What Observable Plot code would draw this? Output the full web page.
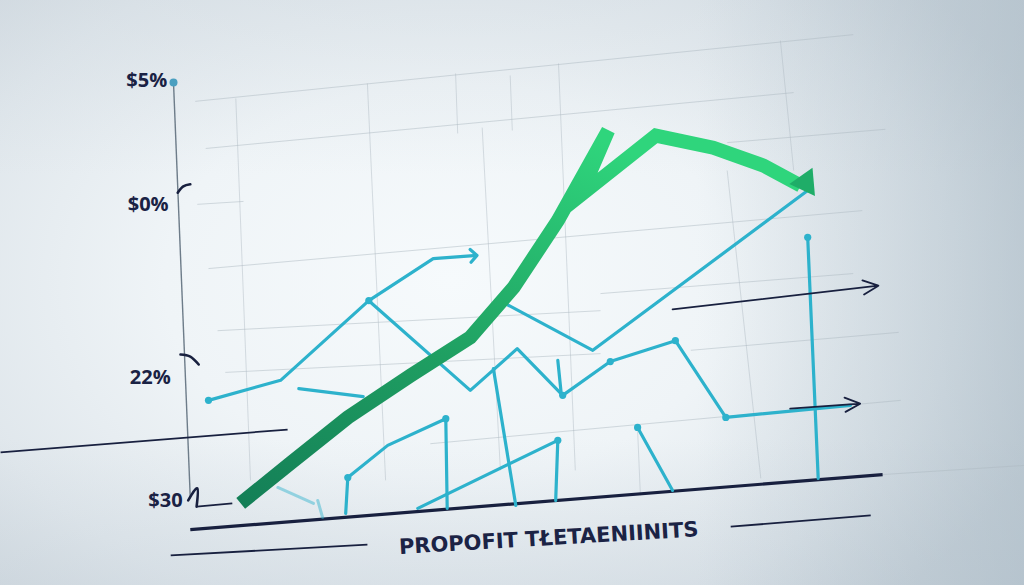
<!DOCTYPE html>
<html>
<head>
<meta charset="utf-8">
<script src="https://cdn.jsdelivr.net/npm/d3@7"></script>
<script src="https://cdn.jsdelivr.net/npm/@observablehq/plot@0.6"></script>
<style>
  html, body { margin: 0; padding: 0; width: 1024px; height: 585px; overflow: hidden; }
  body {
    background:
      linear-gradient(90deg, rgba(150,170,184,0) 68%, rgba(150,170,184,0.42) 100%),
      linear-gradient(180deg, rgba(200,210,218,0.3) 0%, rgba(200,210,218,0) 30%, rgba(200,210,218,0) 75%, rgba(190,202,212,0.3) 100%),
      radial-gradient(ellipse 62% 75% at 44% 48%, #f6fafc 0%, #eff4f7 45%, #e0e7ec 80%, #d4dce2 100%);
  }
  #chart svg { display: block; }
</style>
</head>
<body>
<div id="chart"></div>
<script>
// ---- y-axis tick labels (as printed in the picture) ----
const tickLabels = ["$5%", "$0%", "22%", "$30"];
const tickValues = [100, 70.3, 28.8, -0.7];
const tickX = [-1.9, -1.7, -1.4, 0.3];

// ---- caption ----
const captionText = ["PROPOFIT TŁETAENIINITS"];
const captionX = [52.6];
const captionY = [-9.8];

// ---- main green series (thick rising line with arrow) ----
const greenX = [8.6, 15.7, 23.9, 32.9, 41.4, 47.6, 53.9, 61.1, 57.1, 67.9, 76.1, 83.3, 88.6];
const greenY = [-1.4, 8.2, 19.2, 29.3, 38.4, 50.4, 66.4, 88.0, 72.4, 86.8, 83.9, 79.6, 74.8];
const greenHeadX = [89.3];
const greenHeadY = [75.5];

// ---- teal series ----
const tealAX = [4.0, 14.3, 26.9, 36.1, 41.9];
const tealAY = [23.3, 28.1, 47.2, 57.3, 58.0];
const tealBX = [26.9, 41.4, 48.1, 54.6, 61.4, 70.7, 77.9, 95.7];
const tealBY = [47.2, 25.7, 35.7, 24.5, 32.6, 37.6, 19.2, 22.1];
const tealCX = [46.4, 58.9, 89.6];
const tealCY = [46.5, 35.3, 73.6];
const tealDX = [89.6, 91.1];
const tealDY = [62.4, 4.6];
const tealEX = [16.9, 26.1];
const tealEY = [26.1, 24.2];
const tealFX = [33.9, 53.9, 53.6];
const tealFY = [-2.6, 13.7, -0.7];
const tealGX = [23.6, 23.9, 29.6, 37.9, 38.1];
const tealGY = [-3.8, 4.8, 12.5, 18.9, -2.6];
const tealHX = [44.7, 47.9];
const tealHY = [30.9, -1.9];
const tealIX = [65.3, 70.3];
const tealIY = [16.8, 1.7];
const tealTickX = [53.9, 54.4];
const tealTickY = [32.9, 24.7];
const faintAX = [13.9, 19.0];
const faintAY = [2.4, -1.4];
const faintBX = [19.6, 20.3];
const faintBY = [-0.7, -4.8];

// teal points
const dotX = [4.0, 26.9, 54.6, 61.4, 70.7, 77.9, 89.6, 37.9, 53.9, 65.3, 23.9];
const dotY = [23.3, 47.2, 24.5, 32.6, 37.6, 19.2, 62.4, 18.9, 13.7, 16.8, 4.8];

// ---- dark arrows [x1, y1, x2, y2] ----
const darkArrows = [
  [70.3, 45.1, 99.7, 50.8],
  [87.1, 21.3, 97.1, 22.5]
];

// ---- axis & rule lines [x1, y1, x2, y2] ----
const axisLine = [[-1.0, 99.5, 1.4, -0.2]];
const axisTopDot = [[-1.0, 99.5]];
const baseLine = [[1.4, -7.7, 100.3, 5.5]];
const thinRules = [
  [-1.4, -13.9, 26.7, -11.3],
  [78.6, -7.0, 98.6, -4.3],
  [-25.7, 10.8, 15.3, 16.3],
  [2.3, -2.2, 7.4, -1.4]
];
const hook1X = [-0.4, 0.4, 1.4];
const hook1Y = [73.1, 74.6, 75.1];
const hook2X = [0.0, 1.4, 2.6];
const hook2Y = [34.3, 33.8, 31.9];
const hook3X = [1.1, 2.4, 2.3];
const hook3Y = [-0.7, 2.2, -2.2];

// ---- faint grid [x1, y1, x2, y2] ----
const gridH = [
  [2.1, 95.0, 96.1, 111.0],
  [3.6, 83.7, 87.6, 97.1],
  [2.4, 70.3, 9.0, 71.0],
  [78.1, 85.1, 100.7, 88.3],
  [4.0, 54.9, 97.4, 68.8],
  [5.3, 40.0, 60.0, 44.8],
  [60.0, 48.9, 96.1, 53.7],
  [6.4, 30.0, 60.0, 34.5],
  [72.9, 35.3, 102.6, 39.6],
  [35.7, 12.9, 102.9, 23.3],
  [100.3, 5.5, 120.6, 7.7]
];
const gridV = [
  [7.9, 95.7, 10.0, 4.1],
  [26.7, 99.3, 29.3, 4.1],
  [39.3, 101.7, 39.6, 87.3],
  [43.1, 88.7, 45.7, 6.5],
  [47.1, 101.2, 47.4, 88.0],
  [54.0, 104.1, 56.4, 6.5],
  [85.7, 109.6, 87.6, 78.4],
  [78.1, 78.4, 82.9, 4.6],
  [65.3, 16.1, 65.7, 0.5]
];

// ---------- build tables ----------
const pts = (xs, ys) => xs.map((x, i) => ({x, y: ys[i]}));
const series = (name, xs, ys) => pts(xs, ys).map(d => ({...d, s: name}));
const green = pts(greenX, greenY);
const tealMain = [
  ...series("B", tealBX, tealBY),
  ...series("C", tealCX, tealCY),
  ...series("D", tealDX, tealDY),
  ...series("E", tealEX, tealEY),
  ...series("F", tealFX, tealFY),
  ...series("G", tealGX, tealGY),
  ...series("H", tealHX, tealHY),
  ...series("I", tealIX, tealIY),
  ...series("T", tealTickX, tealTickY)
];
const tealA = pts(tealAX, tealAY);
const faint = [...series("a", faintAX, faintAY), ...series("b", faintBX, faintBY)];
const hooks = [...series("h1", hook1X, hook1Y), ...series("h2", hook2X, hook2Y), ...series("h3", hook3X, hook3Y)];
const dots = pts(dotX, dotY);
const ticks = tickLabels.map((t, i) => ({t, y: tickValues[i], x: tickX[i]}));
const caption = captionText.map((t, i) => ({t, x: captionX[i], y: captionY[i]}));
const seg = {x1: d => d[0], y1: d => d[1], x2: d => d[2], y2: d => d[3]};

const TEAL = "#2db2cc";
const NAVY = "#18203f";

const svg = Plot.plot({
  width: 1024,
  height: 585,
  marginLeft: 180,
  marginRight: 144,
  marginTop: 80,
  marginBottom: 88,
  x: {domain: [0, 100], axis: null},
  y: {domain: [0, 100], axis: null},
  style: {background: "transparent", overflow: "visible"},
  marks: [
    Plot.link(gridH, {...seg, stroke: "#aeb9c2", strokeWidth: 1, strokeOpacity: 0.5}),
    Plot.link(gridV, {...seg, stroke: "#aeb9c2", strokeWidth: 1, strokeOpacity: 0.45}),
    Plot.link(axisLine, {...seg, stroke: "#6d7c89", strokeWidth: 1.4}),
    Plot.link(baseLine, {...seg, stroke: NAVY, strokeWidth: 3.2}),
    Plot.link(thinRules, {...seg, stroke: NAVY, strokeWidth: 1.8}),
    Plot.line(hooks, {x: "x", y: "y", z: "s", stroke: NAVY, strokeWidth: 2.6, curve: "natural"}),
    Plot.line(faint, {x: "x", y: "y", z: "s", stroke: TEAL, strokeWidth: 3, strokeOpacity: 0.45}),
    Plot.line(tealMain, {x: "x", y: "y", z: "s", stroke: TEAL, strokeWidth: 3.2, strokeLinejoin: "round"}),
    Plot.line(tealA, {x: "x", y: "y", stroke: TEAL, strokeWidth: 3.2, markerEnd: "arrow"}),
    Plot.dot(dots, {x: "x", y: "y", r: 3.6, fill: TEAL}),
    Plot.dot(axisTopDot, {x: d => d[0], y: d => d[1], r: 4, fill: "#4a9fc0"}),
    Plot.arrow(darkArrows, {...seg, stroke: NAVY, strokeWidth: 1.8, headLength: 14, headAngle: 50}),
    Plot.line(green, {x: "x", y: "y", stroke: "url(#greenGrad)", strokeWidth: 14,
      strokeLinejoin: "miter", strokeMiterlimit: 6, strokeLinecap: "butt"}),
    Plot.dot(greenHeadX.map((x, i) => ({x, y: greenHeadY[i]})), {x: "x", y: "y", symbol: "triangle",
      r: 10.5, fill: "#1fad68", stroke: "none", rotate: 145}),
    Plot.text(ticks, {x: "x", y: "y", text: "t", textAnchor: "end", lineAnchor: "middle",
      fontSize: 20, fontWeight: 700, fontFamily: "Open Sans", fill: "#1a2244"}),
    Plot.text(caption, {x: "x", y: "y", text: "t", rotate: -3.4, fontSize: 21, fontWeight: 700,
      fontFamily: "DejaVu Sans", fill: "#1b2345"})
  ]
});

// gradient for the green line
const defs = d3.select(svg).insert("defs", ":first-child");
const g = defs.append("linearGradient").attr("id", "greenGrad")
  .attr("x1", 0).attr("y1", 1).attr("x2", 0.6).attr("y2", 0);
g.append("stop").attr("offset", "0%").attr("stop-color", "#147f57");
g.append("stop").attr("offset", "45%").attr("stop-color", "#1f9f62");
g.append("stop").attr("offset", "100%").attr("stop-color", "#2fd57c");

document.getElementById("chart").appendChild(svg);
</script>
</body>
</html>
